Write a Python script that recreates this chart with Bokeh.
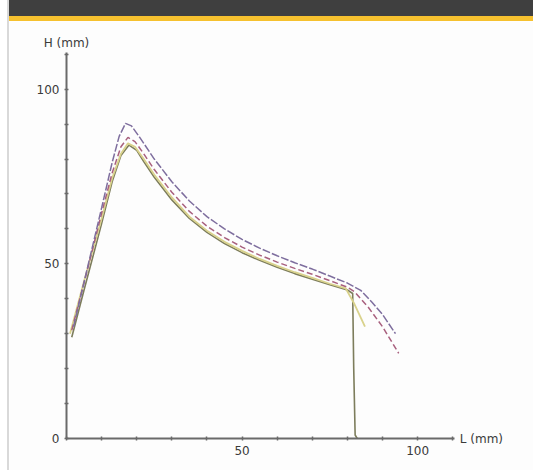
from bokeh.plotting import figure
from bokeh.models import Range1d, FixedTicker, Div
from bokeh.layouts import row, column
from bokeh.embed import file_html
from bokeh.resources import INLINE
from bokeh.core.properties import value

# ---- data ----
l1 = [2, 6, 10, 13, 15, 16.8, 18.5, 21, 25, 30, 35, 40, 45, 50, 55, 60, 65, 70, 75, 80, 83.8, 87, 90, 93.7]
h1 = [32, 49, 66, 79, 86.5, 90.2, 89.5, 86, 80, 73.5, 68, 63.5, 60, 57, 54.5, 52.3, 50.3, 48.5, 46.5, 44.5, 42.4, 39, 35.5, 30]

l2 = [1.5, 6, 10, 13, 15.5, 17.5, 19.5, 22, 25, 30, 35, 40, 45, 50, 55, 60, 65, 70, 75, 80, 82, 86, 90, 94.6]
h2 = [31, 48.5, 64.5, 76, 83.5, 86.2, 85, 81.5, 77, 70.5, 65, 60.8, 57.5, 54.8, 52.5, 50.5, 48.7, 47, 45.2, 43.3, 42, 37.5, 32, 24.4]

l3 = [1, 5, 10, 13, 15.5, 17.5, 19.5, 22, 25, 30, 35, 40, 45, 50, 55, 60, 65, 70, 75, 79.5, 82, 85]
h3 = [30, 45, 63, 74.5, 81.5, 84.5, 83.5, 80, 75.5, 69, 63.5, 59.5, 56.3, 53.7, 51.4, 49.4, 47.6, 46, 44.3, 43, 38.5, 32]

l4 = [1.5, 5, 10, 13, 15.5, 17.8, 20, 22, 25, 30, 35, 40, 45, 50, 55, 60, 65, 70, 75, 80, 81.5, 81.8, 82.2, 82.8]
h4 = [29, 42.5, 61.5, 73.5, 81, 84, 82.5, 79.3, 74.8, 68.3, 63, 59, 55.8, 53.2, 51, 49, 47.2, 45.6, 44, 42.5, 41.5, 20, 1, 0]

x_ticks = [0, 10, 20, 30, 40, 50, 60, 70, 80, 90, 100, 110]
y_ticks = [0, 10, 20, 30, 40, 50, 60, 70, 80, 90, 100, 110]
x_labels = {50: "50", 100: "100"}
y_labels = {0: "0", 50: "50", 100: "100"}
axis_end = 110.5
x_title = "L (mm)"
y_title = "H (mm)"

FONT = "DejaVu Sans"
AX = "#6a6a6a"
TXT = "#3a3a3a"

W, H = 524, 449
ox, oy = 57, 32                 # origin offset from left / bottom of the figure, px
sx = 388 / axis_end             # px per unit along x
sy = 386 / axis_end             # px per unit along y

p = figure(width=W, height=H, output_backend="svg", toolbar_location=None,
           x_range=Range1d(-ox / sx, (W - ox) / sx), y_range=Range1d(-oy / sy, (H - oy) / sy),
           min_border=0, min_border_left=0, min_border_right=0, min_border_top=0, min_border_bottom=0)
p.title.visible = False
p.background_fill_color = "#fdfdfd"
p.border_fill_color = "#fdfdfd"
p.outline_line_color = None
p.xgrid.visible = False
p.ygrid.visible = False

for ax, ticks, labs in ((p.xaxis[0], x_ticks, x_labels), (p.yaxis[0], y_ticks, y_labels)):
    ax.fixed_location = 0
    ax.ticker = FixedTicker(ticks=ticks)
    ax.bounds = (0, axis_end)
    ax.major_label_overrides = {t: labs.get(t, "") for t in ticks}
    ax.axis_line_color = AX
    ax.axis_line_width = 2
    ax.major_tick_line_color = AX
    ax.major_tick_line_width = 1.5
    ax.major_tick_in = 2
    ax.major_tick_out = 2
    ax.minor_tick_line_color = None
    ax.major_label_text_font = FONT
    ax.major_label_text_font_size = "12px"
    ax.major_label_text_color = TXT
    ax.major_label_standoff = 5

p.line(l4, h4, line_color="#7d7d5c", line_width=1.6)
p.line(l3, h3, line_color="#d9d28c", line_width=1.8)
p.line(l2, h2, line_color="#a8607e", line_width=1.5, line_dash="6 3")
p.line(l1, h1, line_color="#7e6e9e", line_width=1.5, line_dash="8 2")

p.text(x=[axis_end + 1.5], y=[0], text=[x_title], text_font=value(FONT), text_font_size="12px",
       text_color=TXT, text_baseline="middle", text_align="left")
p.text(x=[0], y=[axis_end + 2.8], text=[y_title], text_font=value(FONT), text_font_size="12px",
       text_color=TXT, text_baseline="middle", text_align="center")

header = Div(text="", width=W, height=16, margin=0,
             styles={"background-color": "#3f3f3f"})
stripe = Div(text="", width=W, height=5, margin=0,
             styles={"background-color": "#f6c12f"})
pad = Div(text="", width=7, height=470, margin=0, styles={"background-color": "#ffffff"})
edge = Div(text="", width=2, height=470, margin=0, styles={"background-color": "#d9d9d9"})

layout = row(pad, edge, column(header, stripe, p, spacing=0), spacing=0)

with open("out.html", "w") as f:
    f.write(file_html(layout, INLINE))
